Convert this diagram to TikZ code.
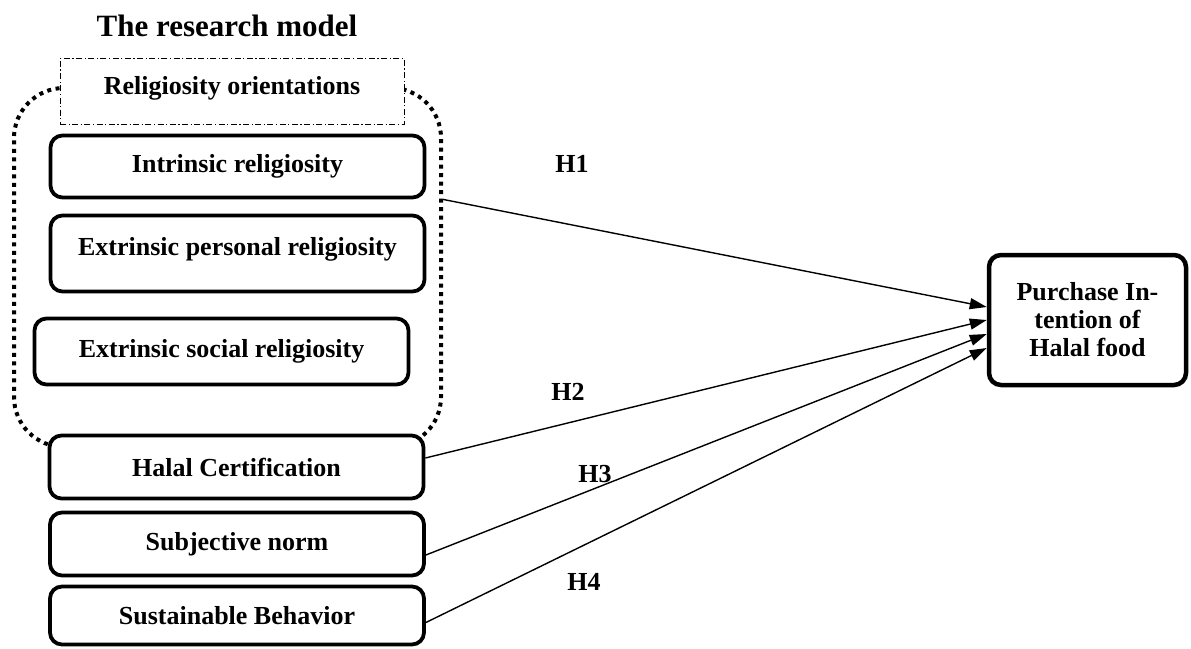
\documentclass[tikz,border=0pt]{standalone}
\usepackage{fontspec}
\setmainfont{Liberation Serif}
\usetikzlibrary{arrows.meta,calc}
\begin{document}
\begin{tikzpicture}[x=1pt,y=-1pt,
  every node/.style={font=\fontsize{26}{28}\selectfont\bfseries},
  varbox/.style={draw, line width=3.8pt, rounded corners=12pt, fill=white, minimum width=374pt, inner sep=0pt},
  groupline/.style={draw, line width=4pt, dash pattern=on 4pt off 4.5pt, rounded corners=50pt, inner sep=0pt},
  headbox/.style={draw, line width=0.9pt, dash pattern=on 6pt off 2.5pt on 1.2pt off 2.5pt, fill=white, inner sep=0pt},
  hyparrow/.style={line width=1.4pt, -{Triangle[length=17pt,width=11pt]}},
  hyplabel/.style={font=\fontsize{26}{28}\selectfont\bfseries}
]
\useasboundingbox (0,0) rectangle (1191,648);
% title
\node[font=\fontsize{31}{34}\selectfont\bfseries] (title) at (227,26) {The research model};
% dotted group
\node[groupline, minimum width=427pt, minimum height=359pt] (grp) at (227.5,267.5) {};
% header box
\node[headbox, minimum width=344pt, minimum height=66pt] (head) at (232,91.5) {};
\node (headtext) at (232,88) {Religiosity orientations};
% variable boxes
\node[varbox, minimum height=62pt] (ir) at (237.5,166.5) {Intrinsic religiosity};
\node[varbox, minimum height=76pt] (ep) at (237.5,253.5) {};
\node (eptext) at (237.5,249) {Extrinsic personal religiosity};
\node[varbox, minimum height=66pt] (es) at (221.5,351.5) {Extrinsic social religiosity};
\node[varbox, minimum height=63pt] (hc) at (236.5,467) {Halal Certification};
\node[varbox, minimum height=63pt] (sn) at (237,544) {Subjective norm};
\node[varbox, minimum height=58pt] (sb) at (237,615.5) {Sustainable Behavior};
% outcome
\node[varbox, line width=4.5pt, minimum width=197pt, minimum height=130pt, align=center] (pi) at (1087.5,320) {Purchase In-\\tention of\\Halal food};
% arrows
\draw[hyparrow] (grp.east |- ir.south) -- ($(pi.west)+(0,-13)$);
\draw[hyparrow] ($(hc.east)+(0,-9)$) -- ($(pi.west)+(0,0)$);
\draw[hyparrow] ($(sn.east)+(0,11)$) -- ($(pi.west)+(0,14)$);
\draw[hyparrow] ($(sb.east)+(0,7)$) -- ($(pi.west)+(0,28)$);
% labels
\node[hyplabel] (h1) at (572,164) {H1};
\node[hyplabel] (h2) at (568,392) {H2};
\node[hyplabel] (h3) at (595,474) {H3};
\node[hyplabel] (h4) at (584,582) {H4};
\end{tikzpicture}
\end{document}
